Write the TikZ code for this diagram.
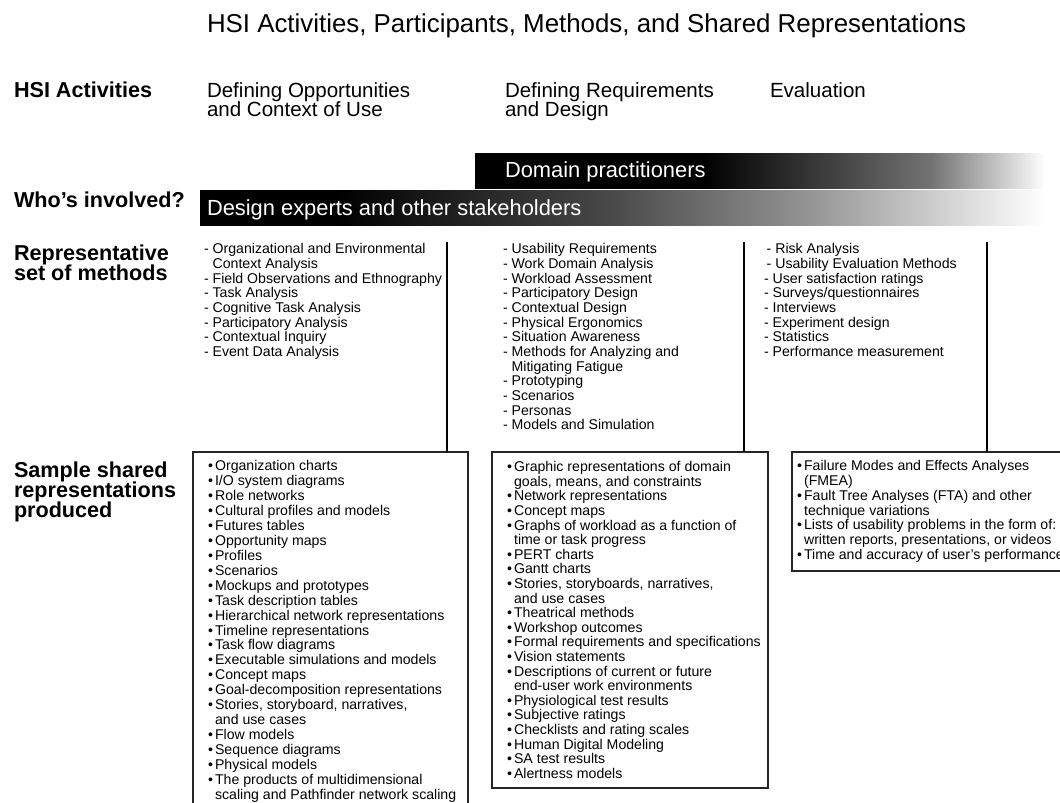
\documentclass[tikz,border=0pt]{standalone}
\usepackage{fontspec}
\setmainfont{Liberation Sans}
\usetikzlibrary{fit}

% bullet and dash markers with hanging continuation lines
\newcommand\bul{\makebox[0.5em][l]{\textbullet}}
\newcommand\bind{\hspace*{0.5em}}
\newcommand\dind{\hphantom{-\ }}

% horizontal fades for the two participant bars
\pgfdeclarehorizontalshading{dombar}{100bp}{color(0bp)=(black); color(25bp)=(black); color(45bp)=(black); color(65bp)=(black!55); color(75bp)=(white); color(100bp)=(white)}
\pgfdeclarehorizontalshading{desbar}{100bp}{color(0bp)=(black); color(25bp)=(black); color(33bp)=(black); color(49bp)=(black!72); color(61bp)=(black!42); color(75bp)=(white); color(100bp)=(white)}

\begin{document}
% keep line spacing fixed even for tight baselines
\lineskiplimit=-20pt\relax
\begin{tikzpicture}[x=0.75pt,y=-0.75pt,
  every node/.style={inner sep=0pt, outer sep=0pt},
  titletext/.style={anchor=base west, font=\fontsize{19.4}{22}\selectfont},
  rowlabel/.style={anchor=north west, align=left,
    font=\bfseries\fontsize{16.2}{15}\selectfont},
  header/.style={anchor=north west, align=left,
    font=\fontsize{15.4}{14}\selectfont},
  bartext/.style={anchor=base west, text=white, font=\fontsize{16.4}{18}\selectfont},
  methodlist/.style={anchor=north west, align=left,
    font=\fontsize{10.6}{11}\selectfont},
  replist/.style={anchor=north west, align=left,
    font=\fontsize{10.6}{#1}\selectfont},
  frame/.style={draw=black!85, line width=1.5pt, inner sep=0pt},
  vline/.style={draw=black, line width=1.6pt},
]
\useasboundingbox (0,0) rectangle (1060,803);
\clip (0,0) rectangle (1060,803);
\fill[white] (0,0) rectangle (1060,803);

% title
\node[titletext] (title) at (207,32) {HSI Activities, Participants, Methods, and Shared Representations};

% row labels
\node[rowlabel] (lblact) at (14,82) {HSI Activities};
\node[anchor=base west, font=\bfseries\fontsize{16.2}{15}\selectfont] (lblwho) at (14,207) {Who’s involved?};
\node[rowlabel] (lblmeth) at (14,245) {Representative\\set of methods};
\node[rowlabel] (lblrep) at (14,461.5) {Sample shared\\representations\\produced};

% activity headers
\node[header] (act1) at (207,82.5) {Defining Opportunities\\and Context of Use};
\node[header] (act2) at (505,82.5) {Defining Requirements\\and Design};
\node[header] (act3) at (770,82.5) {Evaluation};

% participant bars
\coordinate (domnw) at (475,153);
\coordinate (domse) at (1045,188);
\coordinate (desnw) at (200,190);
\coordinate (desse) at (1045,225);
\node[fit=(domnw)(domse), shading=dombar] (dombar) {};
\node[fit=(desnw)(desse), shading=desbar] (desbar) {};
\node[bartext] (domtext) at (505,177) {Domain practitioners};
\node[bartext] (destext) at (207,215) {Design experts and other stakeholders};

% representative methods
\node[methodlist] (meth1) at (204,243.5) {- Organizational and Environmental\\\dind Context Analysis\\- Field Observations and Ethnography\\- Task Analysis\\- Cognitive Task Analysis\\- Participatory Analysis\\- Contextual Inquiry\\- Event Data Analysis};
\node[methodlist] (meth2) at (503,243.5) {- Usability Requirements\\- Work Domain Analysis\\- Workload Assessment\\- Participatory Design\\- Contextual Design\\- Physical Ergonomics\\- Situation Awareness\\- Methods for Analyzing and\\\dind Mitigating Fatigue\\- Prototyping\\- Scenarios\\- Personas\\- Models and Simulation};
\node[methodlist] (meth3) at (764,243.5) {\hspace*{2pt}- Risk Analysis\\\hspace*{2pt}- Usability Evaluation Methods\\- User satisfaction ratings\\- Surveys/questionnaires\\- Interviews\\- Experiment design\\- Statistics\\- Performance measurement};

% shared representation boxes
\coordinate (r1nw) at (193,452);
\coordinate (r1se) at (468,840);
\coordinate (r2nw) at (492,452);
\coordinate (r2se) at (768,788);
\coordinate (r3nw) at (792,452);
\coordinate (r3se) at (1090,571);
\node[frame, fit=(r1nw)(r1se)] (rep1) {};
\node[frame, fit=(r2nw)(r2se)] (rep2) {};
\node[frame, fit=(r3nw)(r3se)] (rep3) {};

% connectors from method columns down to the boxes
\coordinate (m1) at (447,242);
\coordinate (m2) at (744,242);
\coordinate (m3) at (987,242);
\draw[vline] (m1) -- (m1 |- rep1.north);
\draw[vline] (m2) -- (m2 |- rep2.north);
\draw[vline] (m3) -- (m3 |- rep3.north);

\node[replist=11.2] (reptext1) at (208,460.5) {\bul Organization charts\\\bul I/O system diagrams\\\bul Role networks\\\bul Cultural profiles and models\\\bul Futures tables\\\bul Opportunity maps\\\bul Profiles\\\bul Scenarios\\\bul Mockups and prototypes\\\bul Task description tables\\\bul Hierarchical network representations\\\bul Timeline representations\\\bul Task flow diagrams\\\bul Executable simulations and models\\\bul Concept maps\\\bul Goal-decomposition representations\\\bul Stories, storyboard, narratives,\\\bind and use cases\\\bul Flow models\\\bul Sequence diagrams\\\bul Physical models\\\bul The products of multidimensional\\\bind scaling and Pathfinder network scaling};

\node[replist=10.95] (reptext2) at (507,461.5) {\bul Graphic representations of domain\\\bind goals, means, and constraints\\\bul Network representations\\\bul Concept maps\\\bul Graphs of workload as a function of\\\bind time or task progress\\\bul PERT charts\\\bul Gantt charts\\\bul Stories, storyboards, narratives,\\\bind and use cases\\\bul Theatrical methods\\\bul Workshop outcomes\\\bul Formal requirements and specifications\\\bul Vision statements\\\bul Descriptions of current or future\\\bind end-user work environments\\\bul Physiological test results\\\bul Subjective ratings\\\bul Checklists and rating scales\\\bul Human Digital Modeling\\\bul SA test results\\\bul Alertness models};

\node[replist=11.1] (reptext3) at (797,460.5) {\bul Failure Modes and Effects Analyses\\\bind (FMEA)\\\bul Fault Tree Analyses (FTA) and other\\\bind technique variations\\\bul Lists of usability problems in the form of:\\\bind written reports, presentations, or videos\\\bul Time and accuracy of user’s performance};
\end{tikzpicture}
\end{document}
